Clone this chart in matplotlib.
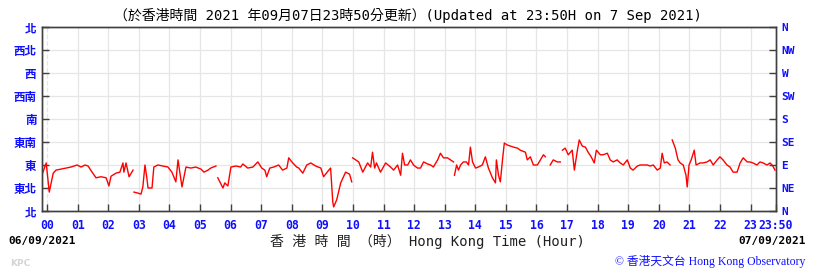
import numpy as np
import matplotlib
matplotlib.use('Agg')
import matplotlib.pyplot as plt

# wind direction (degrees) against Hong Kong time (hours), None = missing
hours = [-0.16, -0.03, 0.07, 0.20, 0.29, 0.46, 0.62, 0.78, 0.98, 1.11, 1.24, 1.34, 1.47, 1.60,
         1.76, 1.93, 2.02, 2.09, 2.25, 2.38, 2.48, 2.51, 2.58, 2.68, 2.81, None,
         2.84, 2.97, 3.07, 3.13, 3.20, 3.26, 3.30, 3.43, 3.49, 3.62, 3.79, 3.95, 4.08, 4.21,
         4.28, 4.41, 4.54, 4.70, 4.86, 5.03, 5.13, 5.26, 5.35, 5.52, None,
         5.58, 5.68, 5.75, 5.81, 5.91, 6.01, 6.17, 6.33, 6.40, 6.56, 6.73, 6.89, 7.02, 7.12,
         7.18, 7.28, 7.41, 7.57, 7.70, 7.84, 7.90, 8.03, 8.16, 8.23, 8.36, 8.49, 8.62, 8.78,
         8.95, 9.04, 9.21, 9.27, 9.34, 9.37, 9.47, 9.60, 9.76, 9.89, 9.96, None,
         9.99, 10.09, 10.19, 10.32, 10.48, 10.58, 10.64, 10.71, 10.77, 10.90, 11.07, 11.23,
         11.33, 11.46, 11.56, 11.62, 11.69, 11.79, 11.88, 11.98, 12.11, 12.21, 12.31, 12.44,
         12.54, 12.63, 12.77, 12.86, 12.96, 13.09, 13.19, 13.29, None,
         13.32, 13.39, 13.45, 13.52, 13.61, 13.71, 13.78, 13.84, 13.91, 14.01, 14.10, 14.23,
         14.33, 14.43, 14.56, 14.66, 14.69, 14.76, 14.82, 14.89, 14.95, 15.05, 15.15, 15.25,
         15.38, 15.47, 15.64, 15.70, 15.80, 15.90, 16.03, 16.13, 16.23, 16.29, None,
         16.45, 16.55, 16.68, 16.78, None,
         16.85, 16.94, 17.04, 17.17, 17.24, 17.34, 17.40, 17.50, 17.60, 17.69, 17.79, 17.89,
         17.96, 18.09, 18.18, 18.32, 18.41, 18.51, 18.64, 18.74, 18.84, 18.97, 19.07, 19.16,
         19.30, 19.39, 19.49, 19.62, 19.72, 19.82, 19.95, 20.05, 20.11, 20.18, 20.27, 20.37, None,
         20.44, 20.54, 20.63, 20.70, 20.80, 20.89, 20.93, 20.99, 21.06, 21.16, 21.22, 21.35,
         21.45, 21.58, 21.68, 21.78, 21.91, 22.00, 22.10, 22.23, 22.33, 22.43, 22.56, 22.66,
         22.76, 22.89, 22.98, 23.08, 23.21, 23.31, 23.41, 23.54, 23.64, 23.73, 23.80]
dirs = [72, 94, 37, 74, 80, 82, 84, 86, 90, 86, 90, 88, 76, 65,
        67, 65, 49, 68, 74, 76, 94, 76, 94, 67, 80, None,
        37, 35, 33, 47, 90, 65, 45, 45, 86, 90, 88, 86, 76, 57,
        100, 47, 86, 84, 86, 82, 76, 80, 84, 88, None,
        65, 53, 45, 55, 49, 86, 88, 86, 92, 84, 86, 96, 84, 80,
        67, 84, 86, 90, 80, 84, 104, 94, 86, 84, 74, 90, 94, 88,
        84, 67, 80, 84, 18, 8, 22, 55, 76, 72, 57, None,
        104, 100, 96, 76, 94, 86, 115, 84, 94, 76, 94, 86,
        80, 90, 70, 113, 90, 90, 100, 90, 84, 84, 96, 92,
        90, 86, 100, 113, 104, 104, 100, 96, None,
        70, 90, 80, 90, 96, 96, 90, 125, 96, 84, 86, 90,
        106, 84, 65, 55, 100, 70, 57, 100, 133, 129, 127, 125,
        123, 119, 115, 100, 106, 90, 90, 100, 110, 106, None,
        90, 100, 96, 96, None,
        119, 123, 110, 119, 80, 119, 139, 127, 125, 115, 106, 94,
        119, 110, 110, 113, 100, 96, 100, 94, 90, 100, 84, 80,
        88, 90, 90, 90, 88, 90, 80, 84, 113, 94, 96, 90, None,
        139, 123, 100, 94, 90, 70, 47, 90, 100, 119, 90, 94,
        94, 96, 100, 90, 100, 106, 100, 90, 86, 76, 76, 94,
        104, 96, 96, 94, 90, 96, 94, 90, 94, 88, 80]

hour_labels = ['%02d' % h for h in range(24)] + ['23:50']
hour_ticks = list(range(24)) + [23 + 50 / 60]
dir_ticks = [0, 45, 90, 135, 180, 225, 270, 315, 360]
dir_cn = ['北', '東北', '東', '東南', '南', '西南', '西', '西北', '北']
dir_en = ['N', 'NE', 'E', 'SE', 'S', 'SW', 'W', 'NW', 'N']

blue = '#1010ff'
mono = ['DejaVu Sans Mono', 'Noto Sans CJK TC']

x = np.array([np.nan if v is None else v for v in hours], dtype=float)
y = np.array([np.nan if v is None else v for v in dirs], dtype=float)

fig = plt.figure(figsize=(8.19, 2.77), dpi=100)
ax = fig.add_axes([0.0513, 0.2383, 0.8962, 0.6642])

# grid
for h in range(24):
    ax.axvline(h, color='#e6e6e6', lw=0.9, ls='--' if h == 0 else '-', zorder=0)
for d in dir_ticks[1:-1]:
    ax.axhline(d, color='#e6e6e6', lw=0.9, zorder=0)

ax.plot(x, y, color='#ff0000', lw=1.0, zorder=3)

ax.set_xlim(-1 / 6, 23 + 50 / 60)
ax.set_ylim(0, 360)
ax.set_xticks(hour_ticks)
ax.set_xticklabels(hour_labels, color=blue, fontsize=8.3, fontweight='bold', family='DejaVu Sans Mono')
ax.set_yticks(dir_ticks)
ax.set_yticklabels(dir_cn, color=blue, fontsize=8.3, fontweight='bold', family='Noto Sans CJK TC')
ax.tick_params(direction='in', length=5, width=1, color='#404040', pad=4)
ax.tick_params(axis='x', pad=6)

ax2 = ax.twinx()
ax2.set_ylim(0, 360)
ax2.set_yticks(dir_ticks)
ax2.set_yticklabels(dir_en, color=blue, fontsize=8, fontweight='bold', family='DejaVu Sans Mono')
ax2.tick_params(direction='in', length=5, width=1, color='#404040', pad=4)

for a in (ax, ax2):
    for s in a.spines.values():
        s.set_color('#404040')
        s.set_linewidth(1.0)

fig.text(0.498, 0.945, '（於香港時間 2021 年09月07日23時50分更新）(Updated at 23:50H on 7 Sep 2021)',
         ha='center', va='center', fontsize=10, family=mono, color='black')

fig.text(0.522, 0.130, '香 港 時 間 （時） Hong Kong Time (Hour)',
         ha='center', va='center', fontsize=10, family=mono, color='#202020')
fig.text(0.010, 0.130, '06/09/2021', ha='left', va='center', fontsize=8,
         fontweight='bold', family='DejaVu Sans Mono', color='black')
fig.text(0.984, 0.130, '07/09/2021', ha='right', va='center', fontsize=8,
         fontweight='bold', family='DejaVu Sans Mono', color='black')
fig.text(0.983, 0.057, '© 香港天文台 Hong Kong Observatory', ha='right', va='center',
         fontsize=8.5, family=['Liberation Serif', 'Noto Sans CJK TC'], color=blue)
fig.text(0.012, 0.050, 'KPC', ha='left', va='center', fontsize=6.5, fontweight='bold',
         family='DejaVu Sans', color='#d4d4d4')

fig.savefig('out.png', dpi=100)
